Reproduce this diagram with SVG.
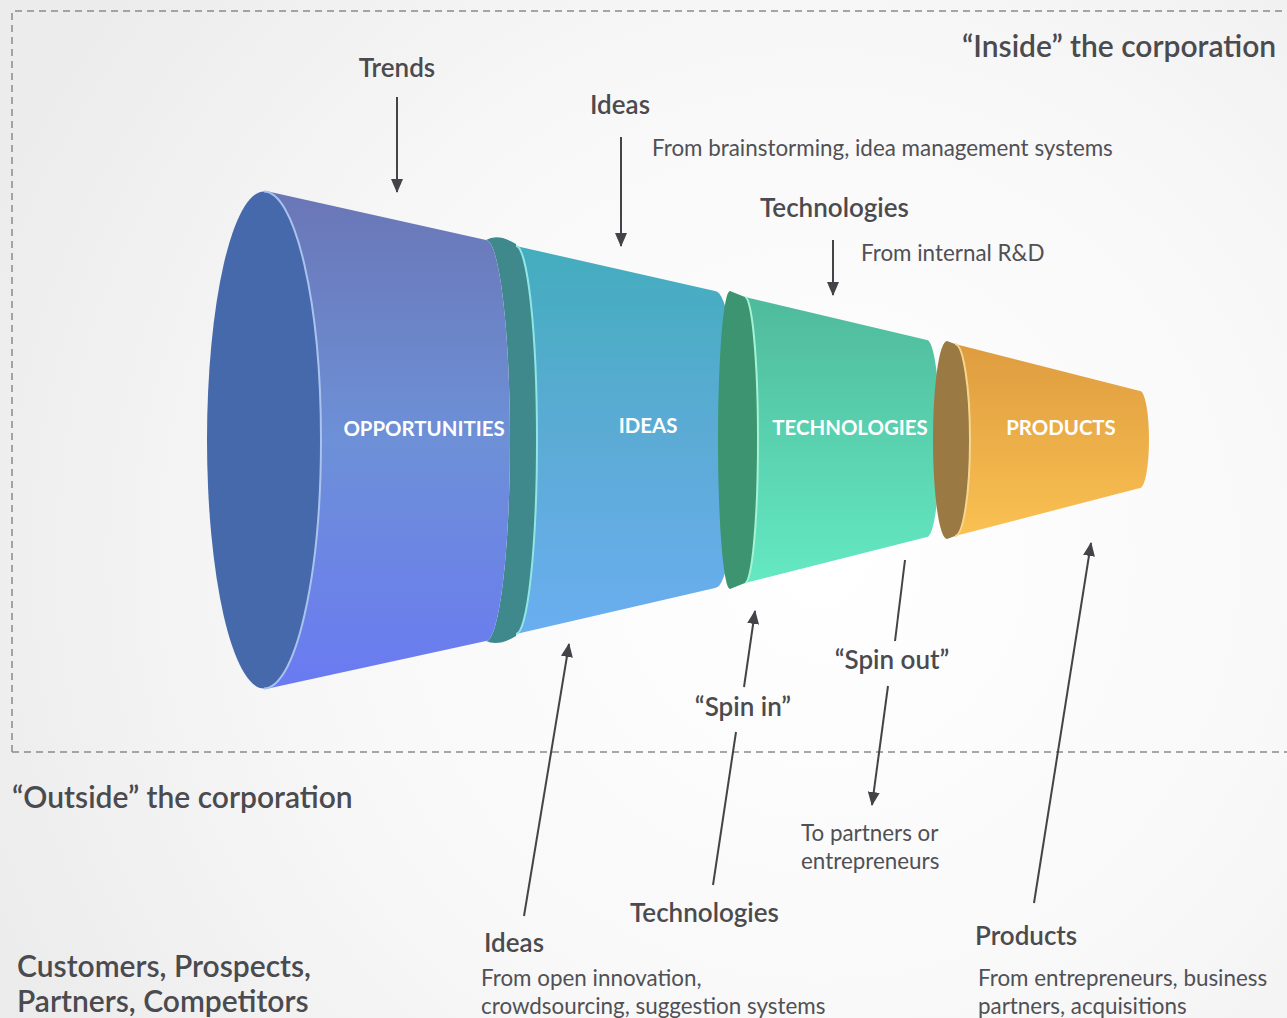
<svg xmlns="http://www.w3.org/2000/svg" width="1287" height="1018" viewBox="0 0 1287 1018">
  <defs>
    <radialGradient id="bg" cx="820" cy="560" r="900" gradientUnits="userSpaceOnUse">
      <stop offset="0" stop-color="#ffffff"/>
      <stop offset="0.55" stop-color="#f8f8f8"/>
      <stop offset="1" stop-color="#ececec"/>
    </radialGradient>
    <linearGradient id="gOpp" x1="0" y1="0" x2="0" y2="1">
      <stop offset="0" stop-color="#6a76b6"/>
      <stop offset="0.5" stop-color="#6d90d7"/>
      <stop offset="1" stop-color="#6a7af2"/>
    </linearGradient>
    <linearGradient id="gIdeas" x1="0" y1="0" x2="0" y2="1">
      <stop offset="0" stop-color="#43adbd"/>
      <stop offset="0.5" stop-color="#5cabd6"/>
      <stop offset="1" stop-color="#6aaef0"/>
    </linearGradient>
    <linearGradient id="gTech" x1="0" y1="0" x2="0" y2="1">
      <stop offset="0" stop-color="#4fba9c"/>
      <stop offset="1" stop-color="#64e9c3"/>
    </linearGradient>
    <linearGradient id="gProd" x1="0" y1="0" x2="0" y2="1">
      <stop offset="0" stop-color="#de9c3f"/>
      <stop offset="1" stop-color="#fac152"/>
    </linearGradient>
    <marker id="ah" viewBox="0 0 14 12" refX="13" refY="6" markerWidth="14" markerHeight="12" markerUnits="userSpaceOnUse" orient="auto">
      <path d="M0,0 L14,6 L0,12 Z" fill="#444448"/>
    </marker>
    <style>
      .lbl { font-family: Lato, "Liberation Sans", sans-serif; fill: #4a4a4f; }
      .h { font-size: 26px; font-weight: 600; }
      .big { font-size: 30px; font-weight: 600; }
      .sub { font-size: 22.4px; font-weight: 400; fill: #505055; }
      .fun { font-family: Lato, "Liberation Sans", sans-serif; font-size: 20.4px; font-weight: 700; fill: #ffffff; text-anchor: middle; }
      .conn { stroke: #444448; stroke-width: 2; fill: none; }
      .dash { stroke: #8a8a8a; stroke-width: 1.5; fill: none; stroke-dasharray: 7 5; }
    </style>
  </defs>

  <rect x="0" y="0" width="1287" height="1018" fill="url(#bg)"/>

  <g id="boundary">
    <path class="dash" d="M12,752 L12,11 L1287,11"/>
    <path class="dash" d="M12,752 L1287,752"/>
  </g>

  <g id="funnel-ideas">
    <path d="M486,240 Q498,233 516,244 L516,246 A21 194 0 0 1 516,634 L516,636 Q498,647 486,641 A24 200.5 0 0 0 486,240 Z" fill="#3f898d"/>
    <path d="M516,246 L715,291 A23 148.5 0 0 1 715,588 L516,634 A21 194 0 0 0 516,246 Z" fill="url(#gIdeas)"/>
    <path d="M516,246 A21 194 0 0 1 516,634" fill="none" stroke="#8fe6e4" stroke-width="2"/>
    <text class="fun" x="648" y="433">IDEAS</text>
  </g>

  <g id="funnel-opportunities">
    <path d="M266,191 L486,240 A24 200.5 0 0 1 486,641 L266,689 Z" fill="url(#gOpp)"/>
    <ellipse cx="264" cy="440" rx="57" ry="248.5" fill="#4669ab"/>
    <path d="M264,191.5 A57 248.5 0 0 1 264,688.5" fill="none" stroke="#a9c2ee" stroke-width="2"/>
    <text class="fun" x="424" y="436">OPPORTUNITIES</text>
  </g>

  <g id="funnel-technologies">
    <path d="M730,291 A12 149 0 0 0 730,589 L745,583 A13 143 0 0 0 745,297 Z" fill="#3c9570"/>
    <path d="M745,297 L927,340 A13 98.5 0 0 1 927,537 L745,583 A13 143 0 0 0 745,297 Z" fill="url(#gTech)"/>
    <path d="M745,297 A13 143 0 0 1 745,583" fill="none" stroke="#a6f2d4" stroke-width="2"/>
    <text class="fun" x="850" y="435">TECHNOLOGIES</text>
  </g>

  <g id="funnel-products">
    <path d="M947,341 A14 99 0 0 0 947,539 L955,536 A15 96 0 0 0 955,344 Z" fill="#9a7a42"/>
    <path d="M955,344 L1140,391 A9 48.5 0 0 1 1140,488 L955,536 A15 96 0 0 0 955,344 Z" fill="url(#gProd)"/>
    <path d="M955,344 A15 96 0 0 1 955,536" fill="none" stroke="#f6d68e" stroke-width="2"/>
    <text class="fun" x="1061" y="435">PRODUCTS</text>
  </g>

  <g id="connectors">
    <line class="conn" x1="397" y1="97" x2="397" y2="192" marker-end="url(#ah)"/>
    <line class="conn" x1="621" y1="137" x2="621" y2="246" marker-end="url(#ah)"/>
    <line class="conn" x1="833" y1="240" x2="833" y2="295" marker-end="url(#ah)"/>
    <line class="conn" x1="524" y1="916" x2="569" y2="644" marker-end="url(#ah)" stroke-width="1.6"/>
    <line class="conn" x1="713" y1="885" x2="736" y2="732" stroke-width="1.6"/>
    <line class="conn" x1="744" y1="687" x2="755" y2="611" marker-end="url(#ah)" stroke-width="1.6"/>
    <line class="conn" x1="905" y1="560" x2="895" y2="641" stroke-width="1.6"/>
    <line class="conn" x1="888" y1="686" x2="872" y2="805" marker-end="url(#ah)" stroke-width="1.6"/>
    <line class="conn" x1="1034" y1="903" x2="1091" y2="543" marker-end="url(#ah)" stroke-width="1.6"/>
  </g>

  <g id="label-inside"><text class="lbl big" x="962" y="57">“Inside” the corporation</text></g>
  <g id="label-outside"><text class="lbl big" x="12" y="808">“Outside” the corporation</text></g>
  <g id="label-trends"><text class="lbl h" x="397" y="77" text-anchor="middle">Trends</text></g>
  <g id="label-ideas-in">
    <text class="lbl h" x="590" y="114">Ideas</text>
    <text class="lbl sub" x="652" y="156">From brainstorming, idea management systems</text>
  </g>
  <g id="label-tech-in">
    <text class="lbl h" x="760" y="217">Technologies</text>
    <text class="lbl sub" x="861" y="261">From internal R&amp;D</text>
  </g>
  <g id="label-spin-in"><text class="lbl h" x="743" y="716" text-anchor="middle">“Spin in”</text></g>
  <g id="label-spin-out"><text class="lbl h" x="892" y="669" text-anchor="middle">“Spin out”</text></g>
  <g id="label-to-partners">
    <text class="lbl sub" x="801" y="841">To partners or</text>
    <text class="lbl sub" x="801" y="869">entrepreneurs</text>
  </g>
  <g id="label-customers">
    <text class="lbl big" x="17" y="977">Customers, Prospects,</text>
    <text class="lbl big" x="17" y="1012">Partners, Competitors</text>
  </g>
  <g id="label-ideas-out">
    <text class="lbl h" x="484" y="952">Ideas</text>
    <text class="lbl sub" x="481" y="986">From open innovation,</text>
    <text class="lbl sub" x="481" y="1014">crowdsourcing, suggestion systems</text>
  </g>
  <g id="label-tech-out"><text class="lbl h" x="630" y="922">Technologies</text></g>
  <g id="label-products-out">
    <text class="lbl h" x="975" y="945">Products</text>
    <text class="lbl sub" x="978" y="986">From entrepreneurs, business</text>
    <text class="lbl sub" x="978" y="1014">partners, acquisitions</text>
  </g>
</svg>
